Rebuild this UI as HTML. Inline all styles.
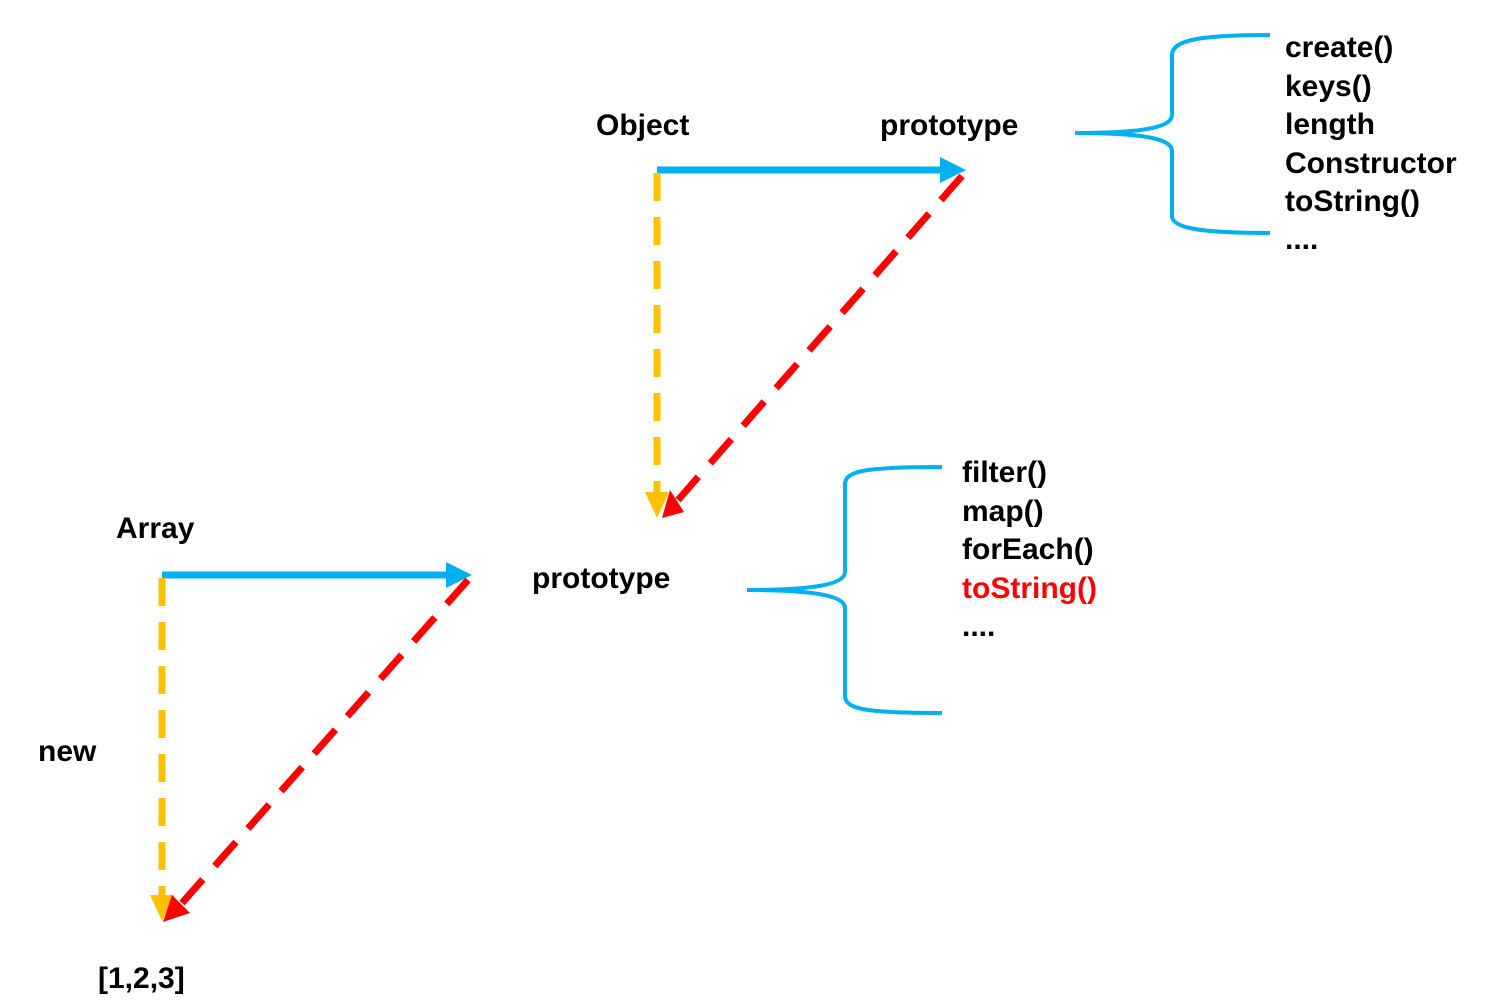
<!DOCTYPE html>
<html><head><style>body{margin:0;background:#fff}svg{display:block}text{font-family:"Liberation Sans",sans-serif;font-weight:bold;font-size:30px;fill:#000}</style></head><body>
<svg width="1486" height="1002" viewBox="0 0 1486 1002">
<g stroke-width="7" fill="none">
<line x1="657" y1="170" x2="942" y2="170" stroke="#00b0f0"/>
<line x1="162" y1="575" x2="450" y2="575" stroke="#00b0f0"/>
<line x1="657" y1="173" x2="657" y2="495" stroke="#ffc000" stroke-dasharray="28,16"/>
<line x1="162" y1="578" x2="162" y2="897" stroke="#ffc000" stroke-dasharray="28,16"/>
<line x1="962" y1="176" x2="678" y2="500" stroke="#ff0000" stroke-dasharray="32,18"/>
<line x1="468" y1="580" x2="182" y2="903" stroke="#ff0000" stroke-dasharray="32,18"/>
</g>
<polygon points="940,157 966,170 940,183" fill="#00b0f0"/>
<polygon points="446,562 472,575 446,588" fill="#00b0f0"/>
<polygon points="645,492 669,492 657,518" fill="#ffc000"/>
<polygon points="150,895 174,895 162,921" fill="#ffc000"/>
<polygon points="662,518 670,490 684,512" fill="#ff0000"/>
<polygon points="163,922 172,895 190,913" fill="#ff0000"/>
<g stroke="#00b0f0" stroke-width="4" fill="none">
<path d="M1075,133 C1140,133 1172,128 1172,115 L1172,55 C1172,40 1200,35 1270,35"/>
<path d="M1075,133 C1140,133 1172,138 1172,151 L1172,216 C1172,228 1200,233 1270,233"/>
<path d="M747,590 C810,590 845,585 845,572 L845,484 C845,470 870,467 942,467"/>
<path d="M747,590 C810,590 845,595 845,608 L845,696 C845,710 870,713 942,713"/>
</g>
<text x="596" y="135">Object</text>
<text x="880" y="135">prototype</text>
<text x="116" y="538">Array</text>
<text x="532" y="588">prototype</text>
<text x="38" y="761">new</text>
<text x="98" y="988">[1,2,3]</text>
<text x="1285" y="57">create()</text>
<text x="1285" y="96">keys()</text>
<text x="1285" y="134">length</text>
<text x="1285" y="173">Constructor</text>
<text x="1285" y="211">toString()</text>
<text x="1285" y="249">....</text>
<text x="962" y="482">filter()</text>
<text x="962" y="521">map()</text>
<text x="962" y="559">forEach()</text>
<text x="962" y="598" style="fill:#ff0000">toString()</text>
<text x="962" y="636">....</text>
</svg>
</body></html>
